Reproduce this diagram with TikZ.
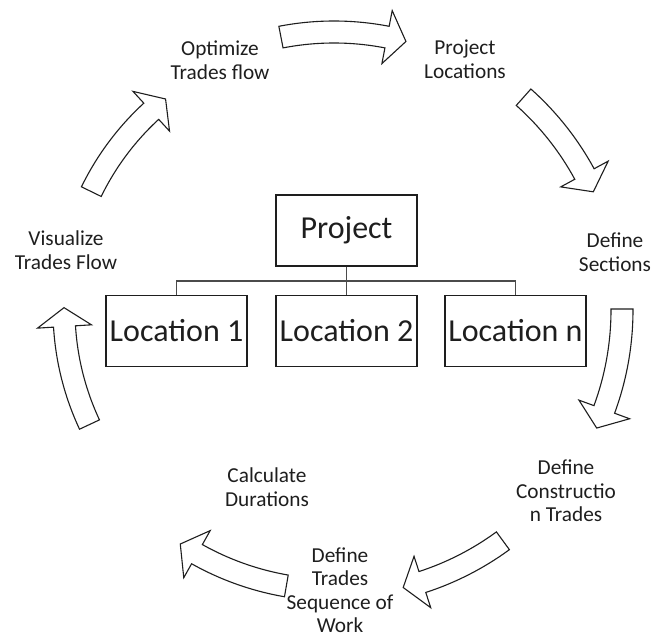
\documentclass[tikz,border=0pt]{standalone}
\usepackage{fontspec}
\setmainfont{Carlito}
\usepackage{xcolor}
\usetikzlibrary{calc}
\definecolor{CycInk}{HTML}{1E1E1E}

\begin{document}
\begin{tikzpicture}[x=1pt,y=1pt,
    box/.style={draw=CycInk,line width=1.2pt,inner sep=0pt,minimum width=141pt,minimum height=71pt,font=\fontsize{32}{36}\selectfont,text=CycInk},
    lbl/.style={align=center,font=\fontsize{21.3}{23.5}\selectfont,text=CycInk},
    tie/.style={draw=CycInk!80,line width=1.2pt},
    cyc/.style={draw=CycInk,fill=white,line width=1.1pt,line join=miter}
  ]
    \useasboundingbox (0,0) rectangle (654,638);
    \coordinate (hub) at (334,328);
    % project tree
    \node[box](P)  at (346.5,407.5) {Project};
    \node[box](L1) at (176.5,307)   {Location 1};
    \node[box](L2) at (346.5,307)   {Location 2};
    \node[box](Ln) at (515.5,307)   {Location n};
    \draw[tie](P.south) -- ++(0,-14.5) -| (L1.north);
    \draw[tie](P.south) ++(0,-14.5) -| (Ln.north);
    \draw[tie](P.south) -- (L2.north);
    % steps round the cycle
    \node[lbl](opt) at (220,578)   {Optimize\\Trades flow};
    \node[lbl](loc) at (465,578.5) {Project\\Locations};
    \node[lbl](sec) at (615,386)   {Define\\Sections};
    \node[lbl](trd) at (566,147)   {Define\\Constructio\\n Trades};
    \node[lbl](seq) at (340,48)    {Define\\Trades\\Sequence of\\Work};
    \node[lbl](dur) at (267,151)   {Calculate\\Durations};
    \node[lbl](vis) at (66,388)    {Visualize\\Trades Flow};
    % block arrows: radius/tail angle/tip angle
    \foreach \r/\a/\b in {278/101/75, 285/48.3/24.5, 288/0.2/-24.2, 286/-53.8/-76,
                          280/-99.8/-123.3, 270/-154.9/-180.5, 270/154/128.6}
      \draw[cyc] ($(hub)+(\a:\r+11)$) arc[start angle=\a,end angle=\b+4,radius=\r+11]
        -- ($(hub)+(\b+4:\r+27)$) -- ($(hub)+(\b:\r)$) -- ($(hub)+(\b+4:\r-27)$)
        -- ($(hub)+(\b+4:\r-11)$) arc[start angle=\b+4,end angle=\a,radius=\r-11] -- cycle;
\end{tikzpicture}
\end{document}
